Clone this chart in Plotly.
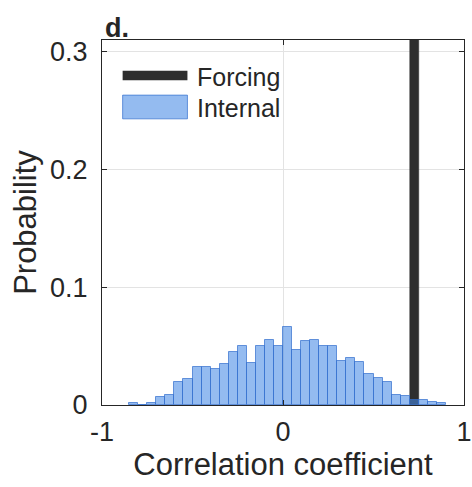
import plotly.graph_objects as go

# Histogram of correlation coefficients, bin width 0.05
bin_width = 0.05
bin_left_edges = [
    -0.85, -0.80, -0.75, -0.70, -0.65, -0.60, -0.55, -0.50, -0.45, -0.40,
    -0.35, -0.30, -0.25, -0.20, -0.15, -0.10, -0.05, 0.00, 0.05, 0.10,
    0.15, 0.20, 0.25, 0.30, 0.35, 0.40, 0.45, 0.50, 0.55, 0.60,
    0.65, 0.70, 0.75, 0.80, 0.85,
]
internal_prob = [
    0.002, 0.000, 0.002, 0.0068, 0.0085, 0.0195, 0.0224, 0.0323, 0.0323, 0.031,
    0.0346, 0.045, 0.050, 0.036, 0.050, 0.0555, 0.050, 0.066, 0.047, 0.054,
    0.0555, 0.050, 0.050, 0.037, 0.040, 0.0365, 0.026, 0.023, 0.0195, 0.0088,
    0.0074, 0.0045, 0.004, 0.0025, 0.002,
]

# Forced response: a single correlation value, all probability in one bin
forcing_left_edge = [0.70]
forcing_prob = [1.0]

x_ticks = [-1, 0, 1]
y_ticks = [0, 0.1, 0.2, 0.3]

FONT = "Liberation Sans, Arial, Helvetica, sans-serif"
TEXT = "#262626"
BLUE_FILL = "rgba(70,138,230,0.58)"
BLUE_EDGE = "rgba(50,110,205,0.7)"

fig = go.Figure()

fig.add_trace(go.Bar(
    x=[e + bin_width / 2 for e in forcing_left_edge],
    y=forcing_prob,
    width=bin_width,
    marker=dict(color="#2e2e2e", line=dict(color="#2e2e2e", width=0.5)),
    showlegend=False,
    name="Forcing",
))

fig.add_trace(go.Bar(
    x=[e + bin_width / 2 for e in bin_left_edges],
    y=internal_prob,
    width=bin_width,
    marker=dict(color=BLUE_FILL, line=dict(color=BLUE_EDGE, width=1)),
    showlegend=False,
    name="Internal",
))

axis_common = dict(
    showline=True, linecolor="#262626", linewidth=1, mirror="ticks",
    ticks="inside", ticklen=5, tickcolor="#262626", tickwidth=1,
    showgrid=True, gridcolor="#e3e3e3", gridwidth=1, zeroline=False,
    tickfont=dict(family=FONT, size=27, color=TEXT),
    automargin=False,
)

fig.update_xaxes(
    range=[-1, 1], tickvals=x_ticks, ticktext=["-1", "0", "1"],
    title=dict(text="Correlation coefficient",
               font=dict(family=FONT, size=31, color=TEXT), standoff=6),
    ticklabelstandoff=3,
    **axis_common,
)
fig.update_yaxes(
    range=[0, 0.31], tickvals=y_ticks, ticktext=["0", "0.1", "0.2", "0.3"],
    title=dict(text="Probability",
               font=dict(family=FONT, size=31, color=TEXT), standoff=4),
    ticklabelstandoff=8,
    **axis_common,
)

# Legend drawn as swatches plus labels inside the axes
fig.add_shape(type="rect", xref="paper", yref="paper",
              x0=0.057, x1=0.236, y0=0.890, y1=0.916,
              fillcolor="#2e2e2e", line=dict(width=0))
fig.add_shape(type="rect", xref="paper", yref="paper",
              x0=0.057, x1=0.236, y0=0.784, y1=0.849,
              fillcolor=BLUE_FILL, line=dict(color=BLUE_EDGE, width=1))
for label, ypos in [("Forcing", 0.899), ("Internal", 0.814)]:
    fig.add_annotation(text=label, xref="paper", yref="paper",
                       x=0.257, y=ypos, xanchor="left", yanchor="middle",
                       showarrow=False,
                       font=dict(family=FONT, size=25, color=TEXT))

# Panel label
fig.add_annotation(text="<b>d.</b>", xref="paper", yref="paper",
                   x=0.003, y=1.0, xanchor="left", yanchor="bottom",
                   yshift=-5, showarrow=False,
                   font=dict(family=FONT, size=27, color=TEXT))

fig.update_layout(
    width=472, height=487,
    margin=dict(l=102, r=8, t=40, b=82),
    barmode="overlay", bargap=0,
    plot_bgcolor="white", paper_bgcolor="white",
    font=dict(family=FONT, color=TEXT),
)

fig.write_html("out.html")
